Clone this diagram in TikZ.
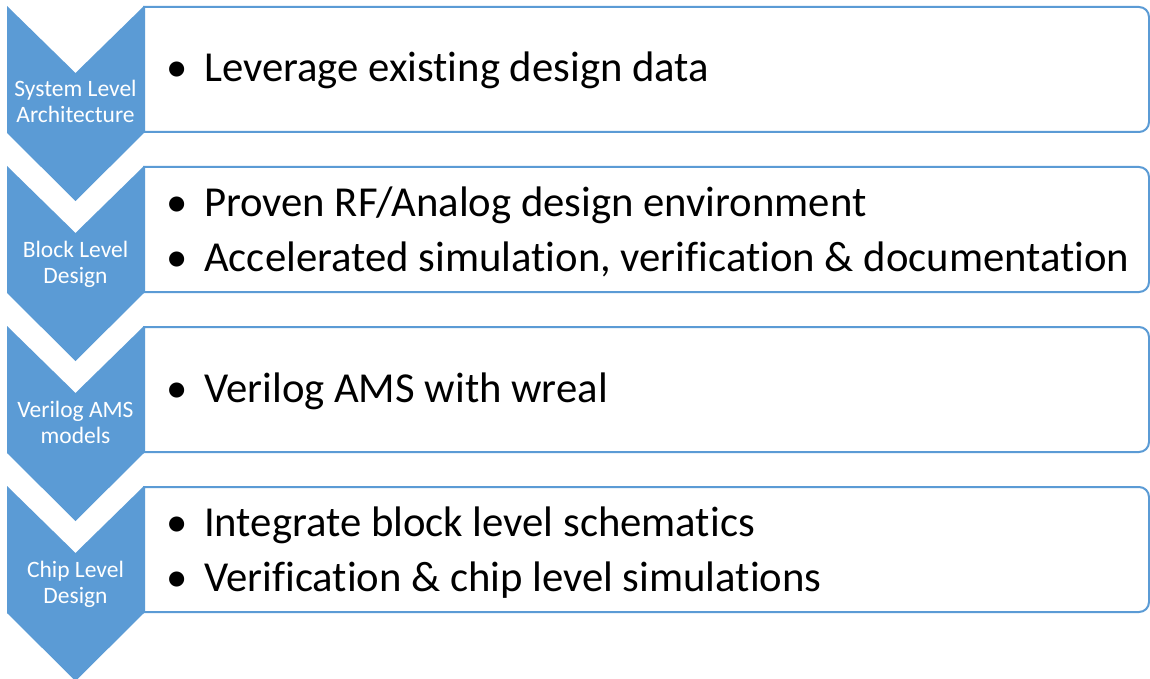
\documentclass[tikz,border=0pt]{standalone}
\usepackage{fontspec}
\setmainfont[Ligatures=NoCommon]{Carlito}
\definecolor{offblue}{HTML}{5B9BD5}
\begin{document}
\begin{tikzpicture}[x=1pt,y=-1pt,
  chev/.style={fill=offblue,draw=none},
  listbox/.style={draw=offblue,line width=2pt,fill=white,rounded corners=0pt},
  chevtext/.style={text=white,font=\fontsize{23.5}{28}\selectfont,anchor=base,inner sep=0pt},
  bul/.style={font=\fontsize{42.7}{50}\selectfont,anchor=base,inner sep=0pt},
  btext/.style={font=\fontsize{42.7}{50}\selectfont,anchor=base west,inner sep=0pt}]
\useasboundingbox (0,0) rectangle (1150,679);
\foreach \t/\n in {6/1,166/2,326/3,486/4}{
  \fill[chev] (7,\t) -- (75.5,\t+67) -- (144,\t) -- (144,\t+127) -- (75.5,\t+195) -- (7,\t+127) -- cycle;
  \draw[listbox] (144,\t+1) -- (1139,\t+1) [rounded corners=10pt] -- (1149,\t+1) -- (1149,\t+126) [rounded corners=0pt] -- (1139,\t+126) -- (144,\t+126) -- cycle;
}
% chevron labels
\node[chevtext] (c1a) at (75.5,97) {System Level};
\node[chevtext] (c1b) at (75.5,123) {Architecture};
\node[chevtext] (c2a) at (75.5,257) {Block Level};
\node[chevtext] (c2b) at (75.5,283) {Design};
\node[chevtext] (c3a) at (75.5,417) {Verilog AMS};
\node[chevtext] (c3b) at (75.5,443) {models};
\node[chevtext] (c4a) at (75.5,577) {Chip Level};
\node[chevtext] (c4b) at (75.5,603) {Design};
% bullets
\node[bul] (b1) at (177,82) {•};
\node[btext] (t1) at (204,82) {Leverage existing design data};
\node[bul] (b2) at (177,216) {•};
\node[btext] (t2) at (204,216) {Proven RF/Analog design environment};
\node[bul] (b3) at (177,271) {•};
\node[btext] (t3) at (204,271) {Accelerated simulation, verification \& documentation};
\node[bul] (b4) at (177,402) {•};
\node[btext] (t4) at (204,402) {Verilog AMS with wreal};
\node[bul] (b5) at (177,536) {•};
\node[btext] (t5) at (204,536) {Integrate block level schematics};
\node[bul] (b6) at (177,591) {•};
\node[btext] (t6) at (204,591) {Verification \& chip level simulations};
\end{tikzpicture}
\end{document}
